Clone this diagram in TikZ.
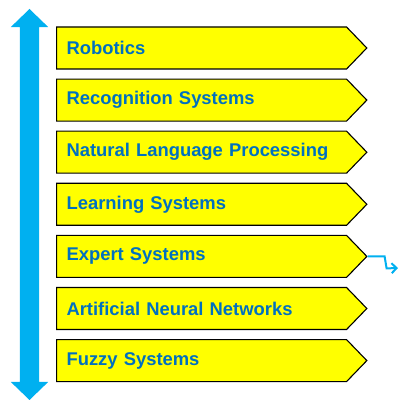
\documentclass[tikz,border=0pt]{standalone}
\usepackage{fontspec}
\setmainfont{Liberation Sans}
\usetikzlibrary{positioning,shapes.arrows,shapes.symbols,arrows.meta}
\definecolor{areablue}{RGB}{0,112,192}
\definecolor{axiscyan}{RGB}{0,176,240}
\definecolor{boxyellow}{RGB}{255,255,0}

\begin{document}
\begin{tikzpicture}[x=1pt,y=1pt,
  node distance=9pt,
  field/.style={signal, signal to=east, signal pointer angle=92,
    draw=black, line width=1.1pt, fill=boxyellow,
    minimum height=42pt, minimum width=310pt,
    inner xsep=10pt, text width=270pt, align=left,
    font=\bfseries\fontsize{18.4}{20}\selectfont, text=areablue},
  axis/.style={double arrow, double arrow tip angle=92,
    double arrow head extend=9pt, fill=axiscyan, draw=none,
    minimum height=391pt, minimum width=37pt,
    inner xsep=0pt, inner ysep=9.5pt}]
  \useasboundingbox (0,0) rectangle (401,402);
  % vertical scale arrow
  \node[axis, rotate=90] (scale) at (29.5,197.5) {};
  % the fields, top to bottom
  \node[field, anchor=west] (robotics) at (56,354) {Robotics};
  \node[field, below=of robotics] (recognition) {Recognition Systems};
  \node[field, below=of recognition] (nlp) {Natural Language Processing};
  \node[field, below=of nlp] (learning) {Learning Systems};
  \node[field, below=of learning] (expert) {Expert Systems};
  \node[field, below=of expert] (ann) {Artificial Neural Networks};
  \node[field, below=of ann] (fuzzy) {Fuzzy Systems};
  % link out of expert systems
  \coordinate (hook) at (398,134);
  \draw[axiscyan, line width=2pt, -{Straight Barb[length=5pt,width=10pt]}]
    (expert.east) -- ++(17,0) -- ++(2,-12) -- (hook);
\end{tikzpicture}
\end{document}
